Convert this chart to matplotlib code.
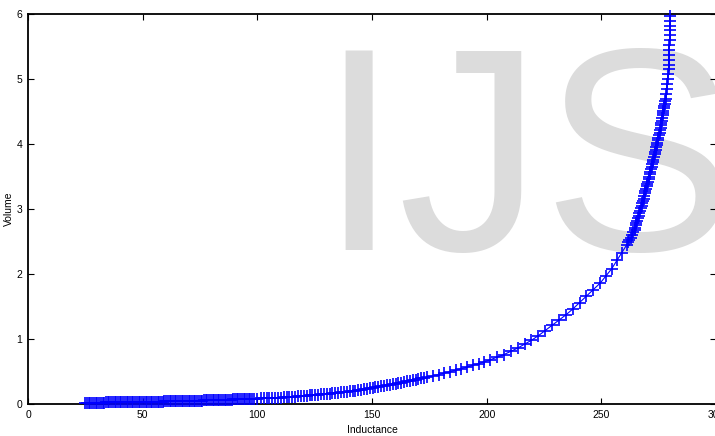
import matplotlib
matplotlib.use("Agg")
import matplotlib.pyplot as plt

# inductance (x) and volume (y)
inductance = [
    25, 26.5, 28, 29.5, 31, 32.5, 34, 35.5, 37, 38.5, 40, 41.5, 43, 44.5, 46, 47.5,
    49, 50.5, 52, 53.5, 55, 56.5, 58, 59.5, 61, 62.5, 64, 65.5, 67, 68.5, 70, 71.5,
    73, 74.5, 76, 77.5, 79, 80.5, 82, 83.5, 85, 86.5, 88, 89.5, 91, 92.5, 94, 95.5,
    97, 98.5,
    101.5, 104, 106.5, 109, 111.5, 114, 116.5, 119, 121.5, 124, 126.5, 129, 131.5,
    134, 136.5, 139, 141.5, 144, 146.5, 149, 151.5, 154, 156.5, 159, 161.5, 164,
    166.5, 169, 171.5, 174, 176.5, 179, 181.5, 184, 186.5, 189, 191.5, 194, 196.5, 199,
    201.5, 204.5, 207.5, 210.5, 213.5, 216.5, 219.5, 222.5, 225.5, 228.5, 231.5,
    234.5, 237.5, 240.5, 243.5, 246.5, 249.5, 252, 254.5, 257, 259,
    261.1, 262.1, 263.5, 264.5, 265.0, 265.6, 266.3, 266.9, 267.6, 268.2, 268.7,
    269.2, 269.8, 270.3, 270.9, 271.4, 272.0, 272.4, 273.0, 273.4, 273.9, 274.4,
    274.9, 275.4, 275.8, 276.2, 276.6, 276.9, 277.3, 277.7, 278.0, 278.3, 278.5,
    278.7, 278.9, 279.1, 279.3, 279.4, 279.5, 279.5, 279.6, 279.7, 279.8, 279.8,
    279.9, 279.9, 280.0, 280.0,
]
volume = [
    .020, .021, .021, .022, .022, .023, .024, .024, .025, .025, .026, .027, .028,
    .029, .030, .031, .032, .033, .034, .035, .036, .037, .038, .039, .040, .041,
    .042, .043, .045, .046, .047, .049, .050, .052, .053, .055, .057, .058, .060,
    .062, .064, .066, .068, .070, .072, .074, .076, .078, .080, .082,
    .085, .089, .093, .098, .103, .109, .115, .121, .128, .135, .143, .151, .160,
    .169, .180, .190, .200, .215, .228, .243, .258, .274, .290, .306, .322, .339,
    .356, .374, .393, .412, .432, .453, .475, .497, .520, .544, .569, .595, .622, .650,
    .68, .72, .76, .81, .86, .92, .98, 1.05, 1.13, 1.21, 1.29,
    1.37, 1.46, 1.56, 1.66, 1.76, 1.86, 1.97, 2.08, 2.22, 2.33,
    2.45, 2.52, 2.60, 2.67, 2.75, 2.82, 2.90, 2.97, 3.05, 3.12, 3.20,
    3.27, 3.35, 3.42, 3.50, 3.57, 3.65, 3.72, 3.80, 3.87, 3.95, 4.02,
    4.10, 4.17, 4.25, 4.32, 4.40, 4.47, 4.55, 4.62, 4.70, 4.77, 4.85,
    4.92, 5.00, 5.07, 5.15, 5.22, 5.30, 5.37, 5.45, 5.52, 5.60, 5.67,
    5.75, 5.82, 5.90, 5.97,
]

# the denser stretches (low end and steep part) carry more samples
inductance_extra = [
    25.75, 27.25, 28.75, 30.25, 31.75, 33.25, 34.75, 36.25, 37.75, 39.25, 40.75,
    42.25, 43.75, 45.25, 46.75, 48.25, 49.75, 51.25, 52.75, 54.25, 55.75, 57.25,
    58.75, 60.25, 61.75, 63.25, 64.75, 66.25, 67.75, 69.25, 70.75, 72.25, 73.75,
    75.25, 76.75, 78.25, 79.75, 81.25, 82.75, 84.25, 85.75, 87.25, 88.75, 90.25,
    91.75, 93.25, 94.75, 96.25, 97.75, 100,
    102.75, 105.25, 107.75, 110.25, 112.75, 115.25, 117.75, 120.25, 122.75, 125.25,
    127.75, 130.25, 132.75, 135.25, 137.75, 140.25, 142.75, 145.25, 147.75, 150.25,
    152.75, 155.25, 157.75, 160.25, 162.75, 165.25, 167.75, 170.25, 172.75,
    261.6, 262.8, 264.0, 264.8, 265.3, 266.0, 266.6, 267.2, 267.9, 268.5, 269.0,
    269.5, 270.1, 270.6, 271.2, 271.7, 272.2, 272.7, 273.2, 273.7, 274.2, 274.7,
    275.2, 275.6, 276.0, 276.4, 276.8, 277.1, 277.5, 277.9,
]
volume_extra = [
    .020, .021, .022, .022, .023, .023, .024, .025, .025, .026, .027,
    .027, .028, .029, .030, .031, .032, .033, .034, .035, .036, .037,
    .038, .039, .040, .041, .043, .044, .045, .047, .048, .049, .051,
    .052, .054, .056, .058, .059, .061, .063, .065, .067, .069, .071,
    .073, .075, .077, .079, .081, .084,
    .087, .091, .096, .100, .106, .112, .118, .125, .131, .139,
    .147, .155, .164, .174, .185, .195, .207, .221, .235, .250,
    .266, .282, .298, .314, .330, .347, .365, .383, .402,
    2.49, 2.56, 2.64, 2.71, 2.79, 2.86, 2.94, 3.01, 3.09, 3.16, 3.24,
    3.31, 3.39, 3.46, 3.54, 3.61, 3.69, 3.76, 3.84, 3.91, 3.99, 4.06,
    4.14, 4.21, 4.29, 4.36, 4.44, 4.51, 4.59, 4.66,
]

plt.rcParams['font.family'] = ['Liberation Sans', 'DejaVu Sans']

fig = plt.figure(figsize=(7.15, 4.36), dpi=100)
ax = fig.add_axes([28 / 715, 32 / 436, 688 / 715, 390 / 436])
ax.set_facecolor('none')

# grey watermark behind the data
ax.text(318 / 715, 186 / 436, 'IJS', transform=fig.transFigure, fontsize=208,
        color='#dcdcdc', ha='left', va='baseline', zorder=0, clip_on=False)

# thin trace through the main sweep, then the crosses
ax.plot(inductance, volume, '-', color='#0000ff', lw=0.8, zorder=3)
ax.plot(inductance + inductance_extra, volume + volume_extra, '+',
        color='#0000ff', markersize=9, mew=1.2, zorder=3, clip_on=False)

ax.set_xlim(0, 300)
ax.set_ylim(0, 6)
ax.set_xticks(range(0, 301, 50))
ax.set_yticks(range(0, 7))
ax.tick_params(direction='in', length=4, width=0.8, labelsize=7.5, pad=4,
               top=True, right=True, color='black')
for s in ax.spines.values():
    s.set_linewidth(1.3)
    s.set_zorder(2.5)

ax.set_xlabel('Inductance', fontsize=7.5, labelpad=4)
ax.set_ylabel('Volume', fontsize=7.5, labelpad=2)

fig.savefig('out.png', dpi=100)
